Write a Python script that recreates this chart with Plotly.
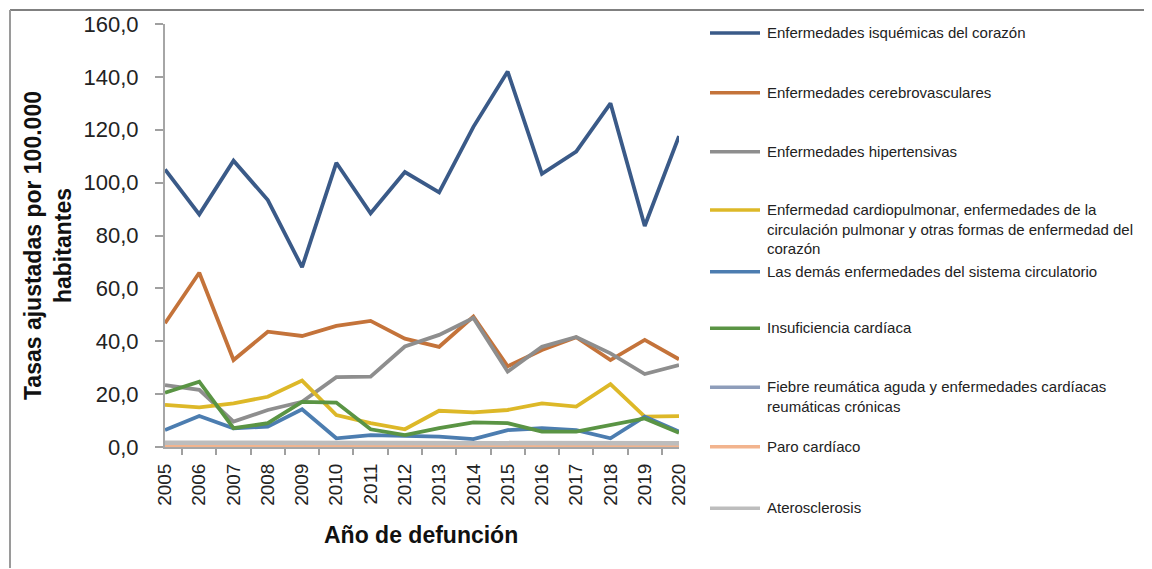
import plotly.graph_objects as go

years = [str(y) for y in range(2005, 2021)]

isquemicas = [105.0, 88.0, 108.3, 93.4, 68.0, 107.5, 88.4, 104.0, 96.3, 121.1, 142.0, 103.3, 111.7, 130.0, 83.6, 117.6]
cerebrovasculares = [46.8, 65.9, 32.9, 43.6, 42.0, 45.8, 47.7, 41.0, 37.9, 49.3, 30.5, 36.7, 41.5, 32.9, 40.5, 33.2]
hipertensivas = [23.4, 21.6, 9.6, 14.0, 17.1, 26.4, 26.6, 38.0, 42.4, 48.8, 28.5, 37.9, 41.6, 35.4, 27.6, 31.0]
cardiopulmonar = [15.9, 15.0, 16.5, 19.0, 25.1, 12.1, 9.0, 6.7, 13.7, 13.1, 14.0, 16.5, 15.3, 23.8, 11.5, 11.7]
demas = [6.4, 11.7, 7.1, 7.7, 14.3, 3.3, 4.5, 4.2, 3.9, 3.0, 6.4, 7.1, 6.4, 3.3, 11.5, 5.8]
insuficiencia = [20.5, 24.7, 7.1, 9.0, 17.1, 16.8, 6.7, 4.5, 7.1, 9.3, 9.0, 5.8, 5.8, 8.3, 10.8, 5.4]
fiebre = [1.2, 1.1, 1.1, 1.0, 1.0, 0.9, 0.9, 0.9, 0.8, 0.8, 0.8, 0.8, 0.7, 0.7, 0.7, 0.7]
paro = [0.5, 0.5, 0.4, 0.4, 0.4, 0.4, 0.3, 0.3, 0.3, 0.3, 0.3, 0.3, 0.3, 0.3, 0.3, 0.3]
aterosclerosis = [1.6, 1.6, 1.5, 1.5, 1.5, 1.4, 1.4, 1.4, 1.4, 1.4, 1.4, 1.4, 1.4, 1.4, 1.4, 1.4]

names = [
    "Enfermedades isquémicas del corazón",
    "Enfermedades cerebrovasculares",
    "Enfermedades hipertensivas",
    "Enfermedad cardiopulmonar, enfermedades de la<br>circulación pulmonar y otras formas de enfermedad del<br>corazón",
    "Las demás enfermedades del sistema circulatorio",
    "Insuficiencia cardíaca",
    "Fiebre reumática aguda y enfermedades cardíacas<br>reumáticas crónicas",
    "Paro cardíaco",
    "Aterosclerosis",
]
series = [isquemicas, cerebrovasculares, hipertensivas, cardiopulmonar, demas,
          insuficiencia, fiebre, paro, aterosclerosis]
colors = ["#3A5A88", "#C4733A", "#8E8E8E", "#DDB828", "#4C7DB0",
          "#5A9444", "#8E9DBA", "#F2B48E", "#BDBDBD"]
widths = [3.8, 3.8, 3.8, 3.8, 3.8, 3.8, 3.8, 3.8, 4.5]

OFF = 8  # page body margin
W, H = 1152 - OFF, 569 - OFF
L, R, T, B = 165 - OFF, 679 - OFF, 24 - OFF, 447 - OFF
pw, ph = R - L, B - T

def px(x):
    return (x - OFF - L) / pw

def py(y):
    return (B - (y - OFF)) / ph

fig = go.Figure()
for n, s, c, w in zip(names, series, colors, widths):
    fig.add_trace(go.Scatter(x=years, y=s, name=n, mode="lines",
                             line=dict(color=c, width=w), showlegend=False))

FONT = "Liberation Sans, Arial"
shapes = []
annotations = []
leg_centers = [33, 92.7, 151.7, 210, 271.7, 328.3, 387.3, 446.7, 508.3]
for n, c, yc in zip(names, colors, leg_centers):
    shapes.append(dict(type="line", xref="paper", yref="paper",
                       x0=px(710), x1=px(760), y0=py(yc), y1=py(yc),
                       line=dict(color=c, width=3.5)))
    annotations.append(dict(xref="paper", yref="paper", x=px(765), y=py(yc - 11),
                            xanchor="left", yanchor="top", align="left",
                            text=n, showarrow=False,
                            font=dict(family=FONT, size=15, color="#222222")))

# frame lines
shapes.append(dict(type="line", xref="paper", yref="paper",
                   x0=px(10), x1=px(1151), y0=py(10), y1=py(10),
                   line=dict(color="#808080", width=2)))
shapes.append(dict(type="line", xref="paper", yref="paper",
                   x0=px(10), x1=px(10), y0=py(10), y1=py(568),
                   line=dict(color="#9A9A9A", width=2)))

annotations.append(dict(xref="paper", yref="paper", x=px(48), y=py(246),
                        xanchor="center", yanchor="middle", textangle=-90,
                        text="<b>Tasas ajustadas por 100.000</b><br><b>habitantes</b>",
                        showarrow=False,
                        font=dict(family=FONT, size=23, color="#111111")))
annotations.append(dict(xref="paper", yref="paper", x=px(421), y=py(535),
                        xanchor="center", yanchor="middle",
                        text="<b>Año de defunción</b>", showarrow=False,
                        font=dict(family=FONT, size=23, color="#111111")))

fig.update_layout(
    width=W, height=H,
    margin=dict(l=L, r=W - R, t=T, b=H - B, autoexpand=False),
    paper_bgcolor="white", plot_bgcolor="white",
    separators=",.",
    showlegend=False,
    shapes=shapes, annotations=annotations,
    font=dict(family=FONT, color="#222222"),
)
fig.update_xaxes(type="category", tickson="boundaries", ticks="outside", ticklen=6,
                 tickcolor="#A0A0A0", tickwidth=1.5, showline=True, linecolor="#A6A6A6",
                 linewidth=2, showgrid=False, zeroline=False, tickangle=-90,
                 ticklabelstandoff=7,
                 tickfont=dict(family=FONT, size=19, color="#222222"))
fig.update_yaxes(range=[0, 160], dtick=20, tickformat=".1f", ticks="outside", ticklen=8,
                 tickcolor="#A0A0A0", tickwidth=1.5, showline=True, linecolor="#A6A6A6",
                 linewidth=2, showgrid=False, zeroline=False, ticklabelstandoff=12,
                 tickfont=dict(family=FONT, size=22, color="#222222"))

fig.write_html("out.html")
